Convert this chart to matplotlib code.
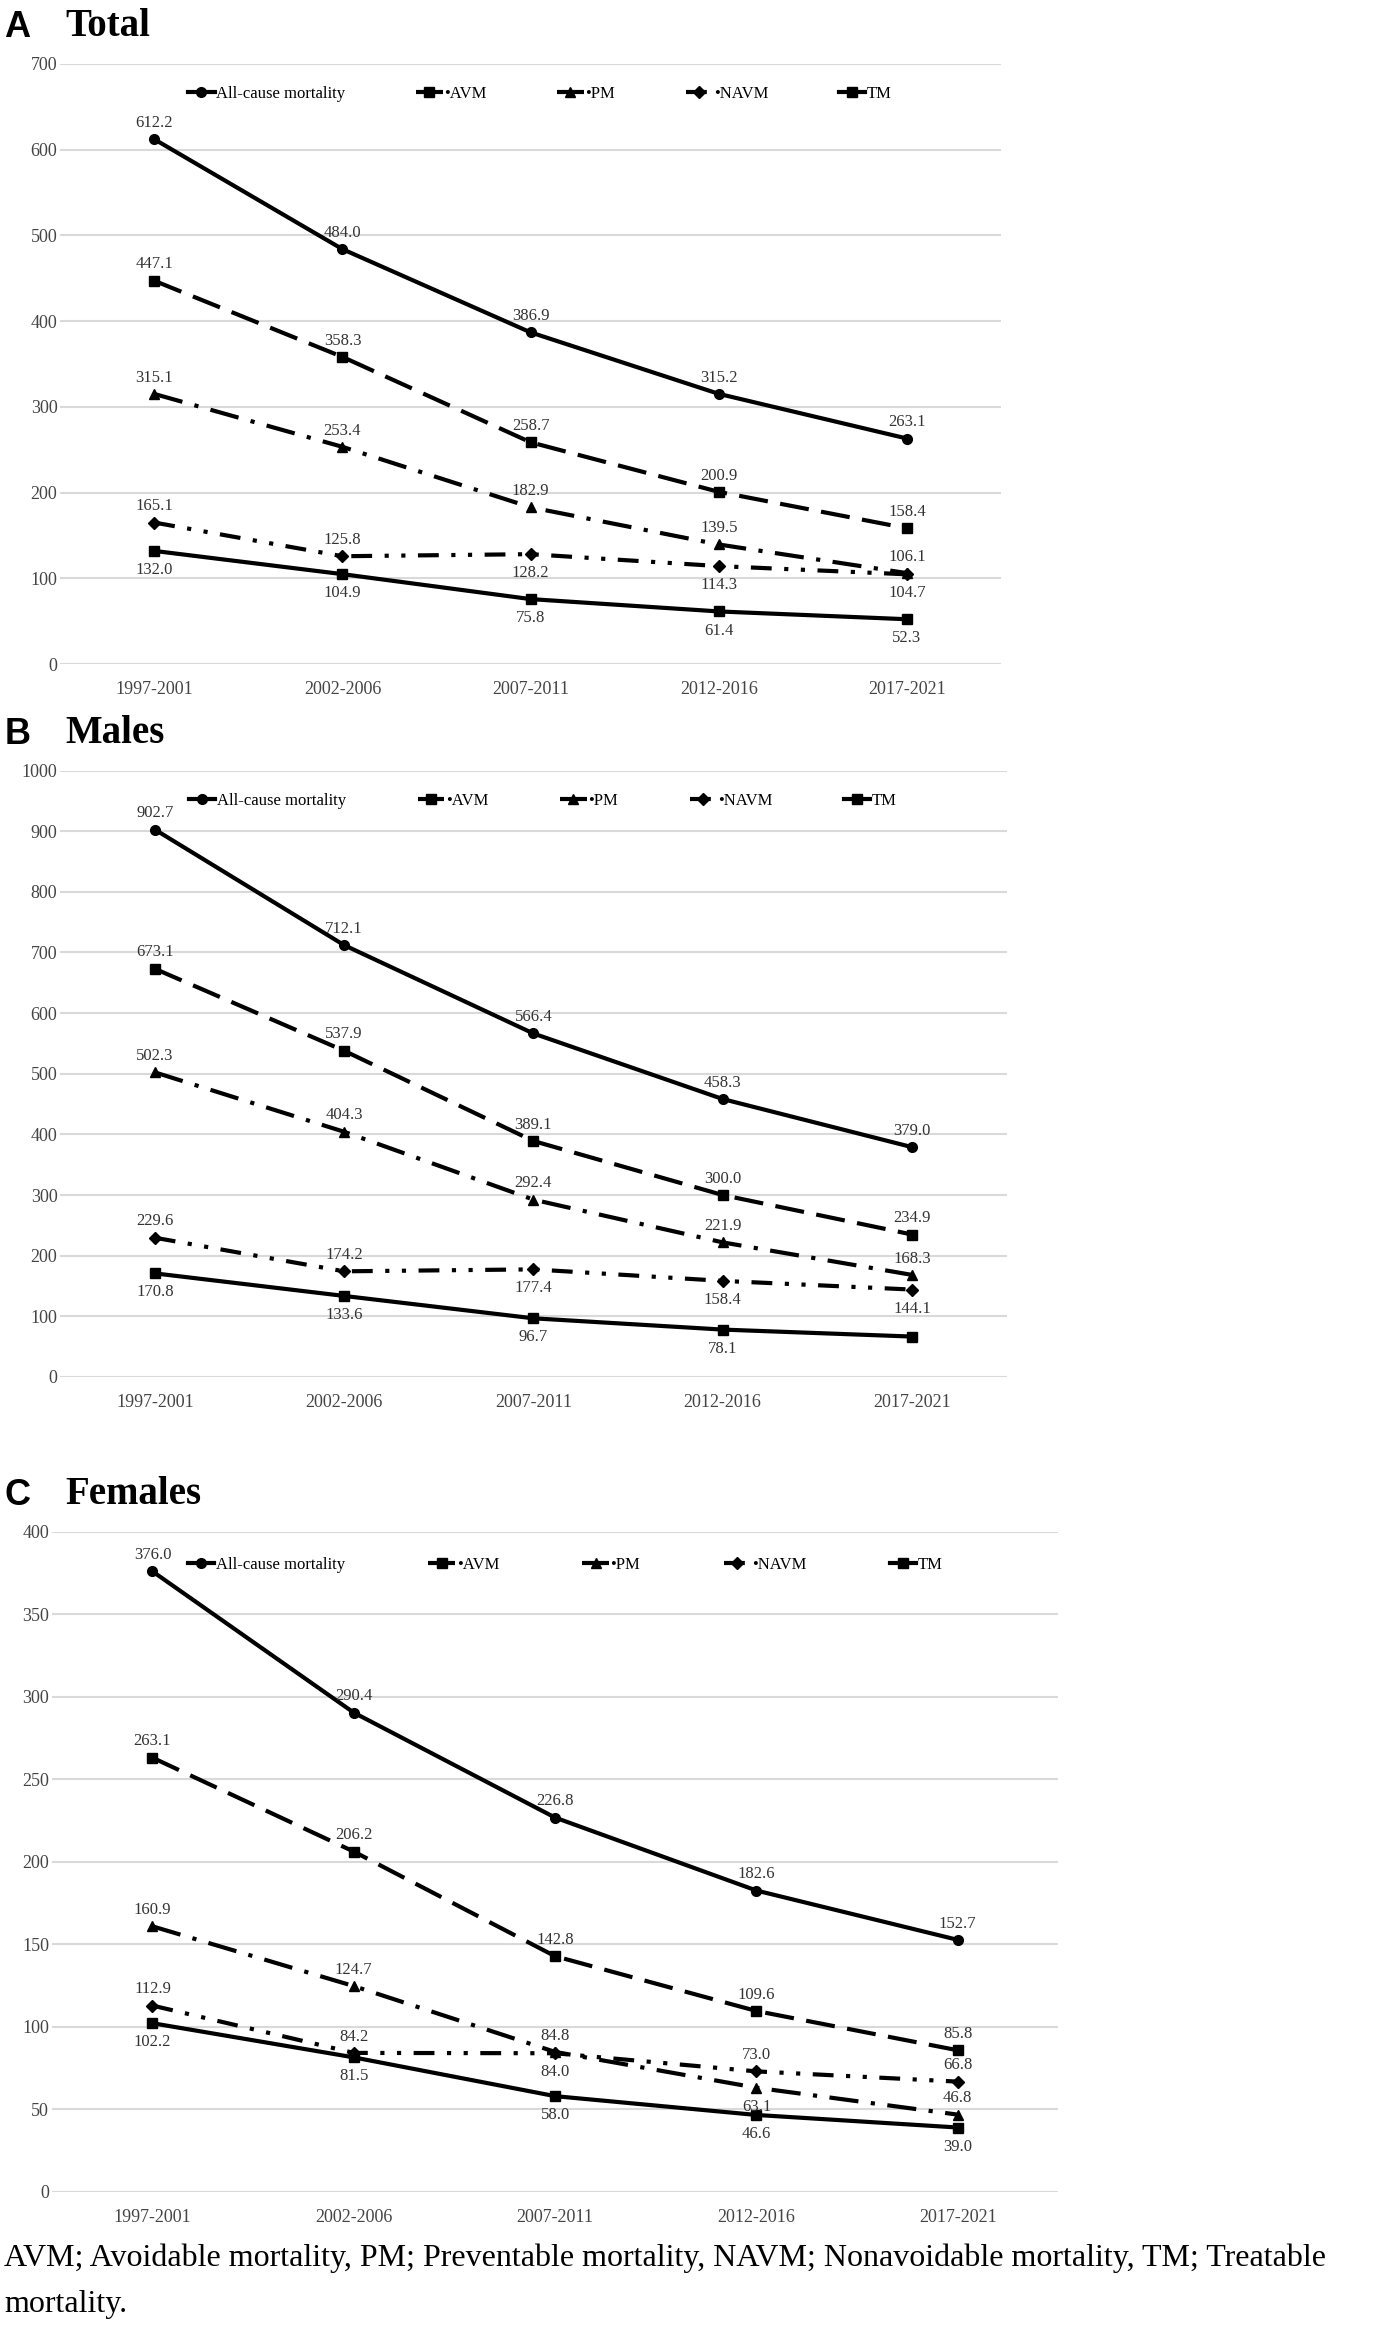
import matplotlib
matplotlib.use("Agg")
import matplotlib.pyplot as plt

plt.rcParams["font.family"] = "Liberation Serif"

periods = ["1997-2001", "2002-2006", "2007-2011", "2012-2016", "2017-2021"]
series_names = ["All-cause mortality", "AVM", "PM", "NAVM", "TM"]

total_all = [612.2, 484.0, 386.9, 315.2, 263.1]
total_avm = [447.1, 358.3, 258.7, 200.9, 158.4]
total_pm = [315.1, 253.4, 182.9, 139.5, 106.1]
total_navm = [165.1, 125.8, 128.2, 114.3, 104.7]
total_tm = [132.0, 104.9, 75.8, 61.4, 52.3]

males_all = [902.7, 712.1, 566.4, 458.3, 379.0]
males_avm = [673.1, 537.9, 389.1, 300.0, 234.9]
males_pm = [502.3, 404.3, 292.4, 221.9, 168.3]
males_navm = [229.6, 174.2, 177.4, 158.4, 144.1]
males_tm = [170.8, 133.6, 96.7, 78.1, 66.6]

females_all = [376.0, 290.4, 226.8, 182.6, 152.7]
females_avm = [263.1, 206.2, 142.8, 109.6, 85.8]
females_pm = [160.9, 124.7, 84.8, 63.1, 46.8]
females_navm = [112.9, 84.2, 84.0, 73.0, 66.8]
females_tm = [102.2, 81.5, 58.0, 46.6, 39.0]

# label placement: 'a' above, 'b' below, '' none
place_total = [list("aaaaa"), list("aaaaa"), list("aaaaa"), ["a", "a", "b", "b", "b"], list("bbbbb")]
place_males = [list("aaaaa"), list("aaaaa"), list("aaaaa"), ["a", "a", "b", "b", "b"], ["b", "b", "b", "b", ""]]
place_females = [list("aaaaa"), list("aaaaa"), ["a", "a", "a", "b", "a"], ["a", "a", "b", "a", "a"], list("bbbbb")]

styles = [
    dict(ls="-", marker="o"),
    dict(ls=(0, (7, 3)), marker="s"),
    dict(ls=(0, (7, 3, 1, 3)), marker="^"),
    dict(ls=(0, (5, 3, 1, 3, 1, 3)), marker="D"),
    dict(ls="-", marker="s"),
]
legend_labels = ["All-cause mortality", "\u2022AVM", "\u2022PM", "\u2022NAVM", "TM"]

fig = plt.figure(figsize=(14, 23.35), dpi=100)

panels = [
    ("A", "Total", [0.043, 0.7156, 0.672, 0.257], [total_all, total_avm, total_pm, total_navm, total_tm], place_total, 700, 100),
    ("B", "Males", [0.043, 0.4103, 0.676, 0.2597], [males_all, males_avm, males_pm, males_navm, males_tm], place_males, 1000, 100),
    ("C", "Females", [0.037, 0.0613, 0.719, 0.2827], [females_all, females_avm, females_pm, females_navm, females_tm], place_females, 400, 50),
]

for letter, title, rect, data, places, ymax, step in panels:
    ax = fig.add_axes(rect)
    x = list(range(len(periods)))
    for i, vals in enumerate(data):
        st = styles[i]
        ms = 7 if st["marker"] != "D" else 6
        ax.plot(x, vals, color="black", lw=3, ls=st["ls"], marker=st["marker"], ms=ms,
                label=legend_labels[i])
        for j, v in enumerate(vals):
            p = places[i][j]
            if not p:
                continue
            off = 6 if p == "a" else -8
            ax.annotate(f"{v:.1f}", (j, v), xytext=(0, off), textcoords="offset points",
                        ha="center", va="bottom" if p == "a" else "top", fontsize=12, color="#333333")
    ax.set_xlim(-0.5, 4.5)
    ax.set_ylim(0, ymax)
    ax.set_yticks(range(0, ymax + 1, step))
    ax.set_xticks(x)
    ax.set_xticklabels(periods)
    ax.tick_params(length=0, labelsize=13, colors="#444444")
    ax.tick_params(axis="x", pad=12)
    ax.tick_params(axis="y", pad=2)
    for s in ax.spines.values():
        s.set_visible(False)
    ax.grid(axis="y", color="#d9d9d9", lw=1.5)
    ax.set_axisbelow(True)
    ax.legend(loc="center", bbox_to_anchor=(0.12, 0.94, 0.78, 0.02), mode="expand", ncol=5,
              frameon=False, fontsize=12, handlelength=1.6, handletextpad=0.1)
    ytop = rect[1] + rect[3]
    fig.text(0.003, ytop + 0.008, letter, fontsize=26, fontweight="bold", family="Liberation Sans", va="bottom")
    fig.text(0.047, ytop + 0.008, title, fontsize=28, fontweight="bold", va="bottom")

fig.text(0.003, 0.033, "AVM; Avoidable mortality, PM; Preventable mortality, NAVM; Nonavoidable mortality, TM; Treatable",
         fontsize=23, va="center")
fig.text(0.003, 0.013, "mortality.", fontsize=23, va="center")

fig.savefig("out.png", dpi=100)
